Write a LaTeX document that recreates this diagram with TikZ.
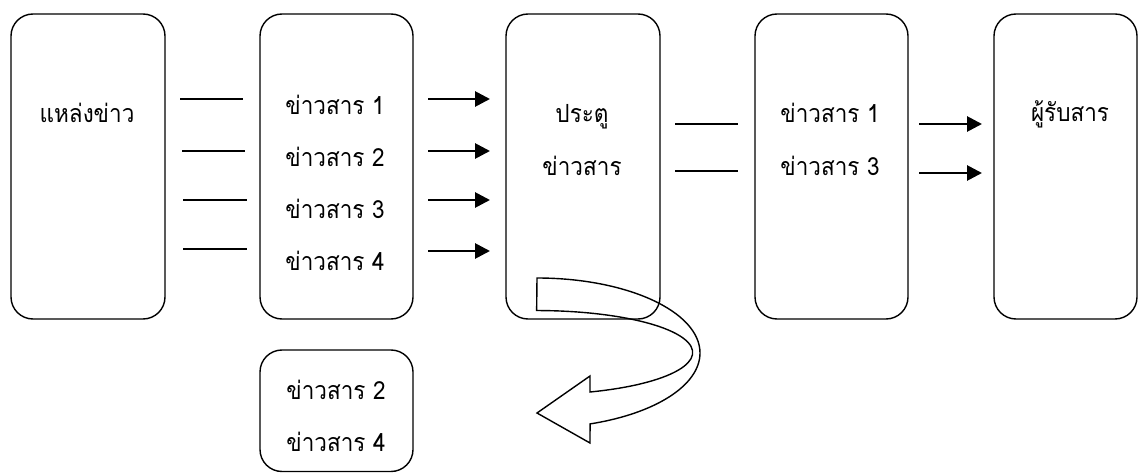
\documentclass[tikz,border=0pt]{standalone}
\usepackage{fontspec}
\newfontfamily\thaifont[Script=Thai,FakeStretch=0.9]{Loma}
\usetikzlibrary{arrows.meta}
\tikzset{
  box/.style={draw, rounded corners=22pt, line width=1.4pt, inner sep=0pt, outer sep=0pt},
  txt/.style={font=\thaifont\fontsize{25}{30}\selectfont, anchor=base, inner sep=0pt},
  plainline/.style={line width=1.8pt},
  arrowline/.style={line width=2.8pt, -{Triangle[length=15pt,width=15pt]}},
  curvarrow/.style={line width=1.4pt, line join=miter}
}
\begin{document}
\begin{tikzpicture}[x=1pt,y=1pt]
\useasboundingbox (0,0) rectangle (1138,-473);
% boxes
\node[box, minimum width=154pt, minimum height=305pt] (b1) at (88,-166.5) {};
\node[box, minimum width=153pt, minimum height=305pt] (b2) at (336.5,-166.5) {};
\node[box, minimum width=154pt, minimum height=305pt] (b3) at (583,-166.5) {};
\node[box, minimum width=153pt, minimum height=305pt] (b4) at (831.5,-166.5) {};
\node[box, minimum width=143pt, minimum height=305pt] (b5) at (1065.5,-166.5) {};
\node[box, minimum width=153pt, minimum height=121.5pt] (b6) at (336.5,-410.75) {};
% texts
\node[txt] (t1) at (87,-123) {แหล่งข่าว};
\node[txt] (t21) at (335,-115) {ข่าวสาร 1};
\node[txt] (t22) at (335,-167) {ข่าวสาร 2};
\node[txt] (t23) at (335,-218.5) {ข่าวสาร 3};
\node[txt] (t24) at (335,-270.5) {ข่าวสาร 4};
\node[txt] (t31) at (582,-123) {ประตู};
\node[txt] (t32) at (582,-176) {ข่าวสาร};
\node[txt] (t41) at (830,-123) {ข่าวสาร 1};
\node[txt] (t43) at (830,-176) {ข่าวสาร 3};
\node[txt] (t5) at (1070,-122) {ผู้รับสาร};
\node[txt] (t62) at (336,-399) {ข่าวสาร 2};
\node[txt] (t64) at (336,-451.5) {ข่าวสาร 4};
% line end points
\coordinate (la1) at (180,-99);  \coordinate (lb1) at (243,-99);
\coordinate (la2) at (182,-151); \coordinate (lb2) at (245,-151);
\coordinate (la3) at (183,-200); \coordinate (lb3) at (247,-200);
\coordinate (la4) at (183,-249); \coordinate (lb4) at (247,-249);
\coordinate (aa1) at (428,-99);  \coordinate (ab1) at (490,-99);
\coordinate (aa2) at (428,-151); \coordinate (ab2) at (490,-151);
\coordinate (aa3) at (428,-200); \coordinate (ab3) at (490,-200);
\coordinate (aa4) at (428,-251); \coordinate (ab4) at (490,-251);
\coordinate (ma1) at (675,-124); \coordinate (mb1) at (738,-124);
\coordinate (ma2) at (675,-171); \coordinate (mb2) at (738,-171);
\coordinate (ra1) at (919,-124); \coordinate (rb1) at (982,-124);
\coordinate (ra2) at (919,-173); \coordinate (rb2) at (982,-173);
\foreach \i in {1,2,3,4} {\draw[plainline] (la\i) -- (lb\i);}
\foreach \i in {1,2,3,4} {\draw[arrowline] (aa\i) -- (ab\i);}
\foreach \i in {1,2} {\draw[plainline] (ma\i) -- (mb\i);}
\foreach \i in {1,2} {\draw[arrowline] (ra\i) -- (rb\i);}
% curved block arrow
\draw[curvarrow] (537,-278) arc[start angle=90, end angle=-71, x radius=163, y radius=75]
  -- (590,-443) -- (537,-413) -- (590,-376) -- (590,-392)
  arc[start angle=-70, end angle=90, x radius=156, y radius=42] -- cycle;
\end{tikzpicture}
\end{document}
